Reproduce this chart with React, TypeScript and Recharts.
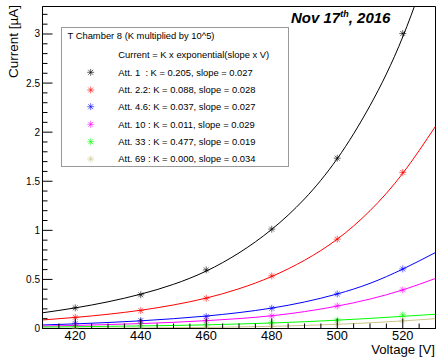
import React from 'react';
import { ComposedChart, Line, XAxis, YAxis, ReferenceArea, Legend, Customized } from 'recharts';

const voltages = [410, 420, 430, 440, 450, 460, 470, 480, 490, 500, 510, 520, 530];
const fitAtt1 = [0.16, 0.21, 0.272, 0.35, 0.45, 0.585, 0.77, 1.01, 1.32, 1.73, 2.27, 2.97, 3.9];
const fitAtt22 = [0.087, 0.113, 0.145, 0.186, 0.24, 0.31, 0.405, 0.53, 0.695, 0.91, 1.2, 1.58, 2.06];
const fitAtt46 = [0.036, 0.047, 0.061, 0.078, 0.1, 0.127, 0.162, 0.208, 0.27, 0.352, 0.46, 0.605, 0.774];
const fitAtt10 = [0.025, 0.031, 0.04, 0.05, 0.063, 0.08, 0.101, 0.13, 0.172, 0.228, 0.3, 0.393, 0.51];
const fitAtt33 = [0.015, 0.018, 0.022, 0.026, 0.031, 0.037, 0.046, 0.056, 0.069, 0.085, 0.103, 0.124, 0.145];
const fitAtt69 = [0.002, 0.003, 0.004, 0.006, 0.008, 0.011, 0.016, 0.022, 0.031, 0.043, 0.058, 0.077, 0.1];

const measVoltages = [420, 440, 460, 480, 500, 520];
const measAtt1 = [0.21, 0.343, 0.597, 1.012, 1.735, 3.005];
const measAtt22 = [0.114, 0.182, 0.308, 0.536, 0.91, 1.59];
const measAtt46 = [0.05, 0.08, 0.121, 0.206, 0.352, 0.607];
const measAtt10 = [0.035, 0.053, 0.08, 0.128, 0.23, 0.393];
const measAtt33 = [0.02, 0.03, 0.036, 0.06, 0.087, 0.138];
const measAtt69 = [0.003, 0.006, 0.011, 0.022, 0.043, 0.08];

const seriesNames = [
  'Att. 1  : K = 0.205, slope = 0.027',
  'Att. 2.2: K = 0.088, slope = 0.028',
  'Att. 4.6: K = 0.037, slope = 0.027',
  'Att. 10 : K = 0.011, slope = 0.029',
  'Att. 33 : K = 0.477, slope = 0.019',
  'Att. 69 : K = 0.000, slope = 0.034',
];
const seriesColors = ['#000000', '#ff0000', '#0000ff', '#ff00ff', '#00ff00', '#ccc48c'];

const legendTitle = 'T Chamber 8 (K multiplied by 10^5)';
const legendFormula = 'Current = K x exponential(slope x V)';

const xMajorTicks = [420, 440, 460, 480, 500, 520];
const xTicks = [410, 415, 420, 425, 430, 435, 440, 445, 450, 455, 460, 465, 470, 475, 480, 485, 490, 495, 500, 505, 510, 515, 520, 525, 530];
const yMajorTicks = [0, 0.5, 1, 1.5, 2, 2.5, 3];
const yTicks = [0, 0.1, 0.2, 0.3, 0.4, 0.5, 0.6, 0.7, 0.8, 0.9, 1, 1.1, 1.2, 1.3, 1.4, 1.5, 1.6, 1.7, 1.8, 1.9, 2, 2.1, 2.2, 2.3, 2.4, 2.5, 2.6, 2.7, 2.8, 2.9, 3, 3.1, 3.2];

const fits = [fitAtt1, fitAtt22, fitAtt46, fitAtt10, fitAtt33, fitAtt69];
const meas = [measAtt1, measAtt22, measAtt46, measAtt10, measAtt33, measAtt69];

const data = voltages.map((v, i) => {
  const row: any = { v };
  fits.forEach((f, k) => { row['f' + k] = f[i]; });
  const mi = measVoltages.indexOf(v);
  meas.forEach((m, k) => { row['m' + k] = mi >= 0 ? m[mi] : null; });
  return row;
});

const FONT = '"Liberation Sans", Arial, Helvetica, sans-serif';

const Star = (cx: number, cy: number, color: string, r = 3.5, key?: any) => {
  const d = r * 0.7071;
  return (
    <g key={key} stroke={color} strokeWidth={1} strokeOpacity={0.6}>
      <line x1={cx - r} y1={cy} x2={cx + r} y2={cy} />
      <line x1={cx} y1={cy - r} x2={cx} y2={cy + r} />
      <line x1={cx - d} y1={cy - d} x2={cx + d} y2={cy + d} />
      <line x1={cx - d} y1={cy + d} x2={cx + d} y2={cy - d} />
    </g>
  );
};

const makeDot = (color: string) => (props: any) => {
  const { cx, cy, value, index } = props;
  if (value == null || cy == null || isNaN(cy)) return <g key={'d' + index} />;
  return Star(cx, cy, color, 3.5, 'd' + index);
};

const YTick = (props: any) => {
  const { x, y, payload } = props;
  const major = yMajorTicks.includes(payload.value);
  return (
    <g>
      <line x1={x} x2={x + (major ? 10 : 5)} y1={y} y2={y} stroke="#000" />
      {major && (
        <text x={x - 2.5} y={y + 3.5} textAnchor="end" fontSize={10} fontFamily={FONT} fill="#000">
          {String(payload.value)}
        </text>
      )}
    </g>
  );
};

const XTick = (props: any) => {
  const { x, y, payload } = props;
  const major = xMajorTicks.includes(payload.value);
  return (
    <g>
      <line x1={x} x2={x} y1={y} y2={y - (major ? 10 : 5)} stroke="#000" />
      {major && (
        <text x={x} y={y + 11.7} textAnchor="middle" fontSize={12.8} fontFamily={FONT} fill="#000">
          {String(payload.value)}
        </text>
      )}
    </g>
  );
};

const LegendBox = () => {
  const rowY = [45.3, 63, 79.7, 97.3, 114.7, 132];
  return (
    <svg width={228} height={140} style={{ display: 'block' }}>
      <rect x={0.5} y={0.5} width={227} height={139} fill="#fff" stroke="#999" />
      <text x={6.5} y={12.2} fontSize={9.4} fontFamily={FONT} fill="#000">{legendTitle}</text>
      <text x={57.3} y={30.7} fontSize={9.4} fontFamily={FONT} fill="#000">{legendFormula}</text>
      {seriesNames.map((n, k) => (
        <g key={k}>
          {Star(29.7, rowY[k], seriesColors[k], 3.5)}
          <text x={57.3} y={rowY[k] + 3.4} fontSize={9.4} fontFamily={FONT} fill="#000" style={{ whiteSpace: 'pre' }}>{n}</text>
        </g>
      ))}
    </svg>
  );
};

const Decorations = () => (
  <g fontFamily={FONT} fill="#000">
    <text x={291} y={23} fontSize={15} fontWeight="bold" fontStyle="italic">
      <tspan>Nov 17</tspan>
      <tspan dy={-6} fontSize={9}>th</tspan>
      <tspan dy={6}>, 2016</tspan>
    </text>
    <text x={18} y={5} fontSize={13.5} textAnchor="end" transform="rotate(-90, 18, 5)">Current [µA]</text>
    <text x={435} y={354.3} fontSize={13.2} textAnchor="end">Voltage [V]</text>
  </g>
);

export default function App() {
  return (
    <div style={{ position: 'absolute', left: 0, top: 0, width: 437, height: 357, background: '#fff' }}>
      <ComposedChart width={437} height={357} data={data} margin={{ top: 6.5, right: 1.5, bottom: 0, left: 0 }}>
        <XAxis
          dataKey="v"
          type="number"
          domain={[410, 530]}
          ticks={xTicks}
          interval={0}
          allowDataOverflow
          height={28.5}
          tickSize={0}
          tickMargin={0}
          tickLine={false}
          axisLine={{ stroke: '#000' }}
          tick={<XTick />}
        />
        <YAxis
          type="number"
          domain={[0, 3.28]}
          ticks={yTicks}
          interval={0}
          allowDataOverflow
          width={42.5}
          tickSize={0}
          tickMargin={0}
          tickLine={false}
          axisLine={{ stroke: '#000' }}
          tick={<YTick />}
        />
        <ReferenceArea x1={410} x2={530} y1={0} y2={3.28} fill="none" stroke="#000" strokeWidth={1} fillOpacity={0} />
        {fits.map((_, k) => (
          <Line
            key={'f' + k}
            dataKey={'f' + k}
            type="natural"
            stroke={seriesColors[k]}
            strokeWidth={1}
            dot={false}
            activeDot={false}
            legendType="none"
            isAnimationActive={false}
          />
        ))}
        {meas.map((_, k) => (
          <Line
            key={'m' + k}
            dataKey={'m' + k}
            name={seriesNames[k]}
            stroke="none"
            dot={makeDot(seriesColors[k])}
            activeDot={false}
            isAnimationActive={false}
          />
        ))}
        <Legend
          layout="vertical"
          align="center"
          verticalAlign="middle"
          content={() => <LegendBox />}
          wrapperStyle={{ position: 'absolute', left: 61, top: 27, width: 228, height: 140 }}
        />
        <Customized component={Decorations} />
      </ComposedChart>
    </div>
  );
}
